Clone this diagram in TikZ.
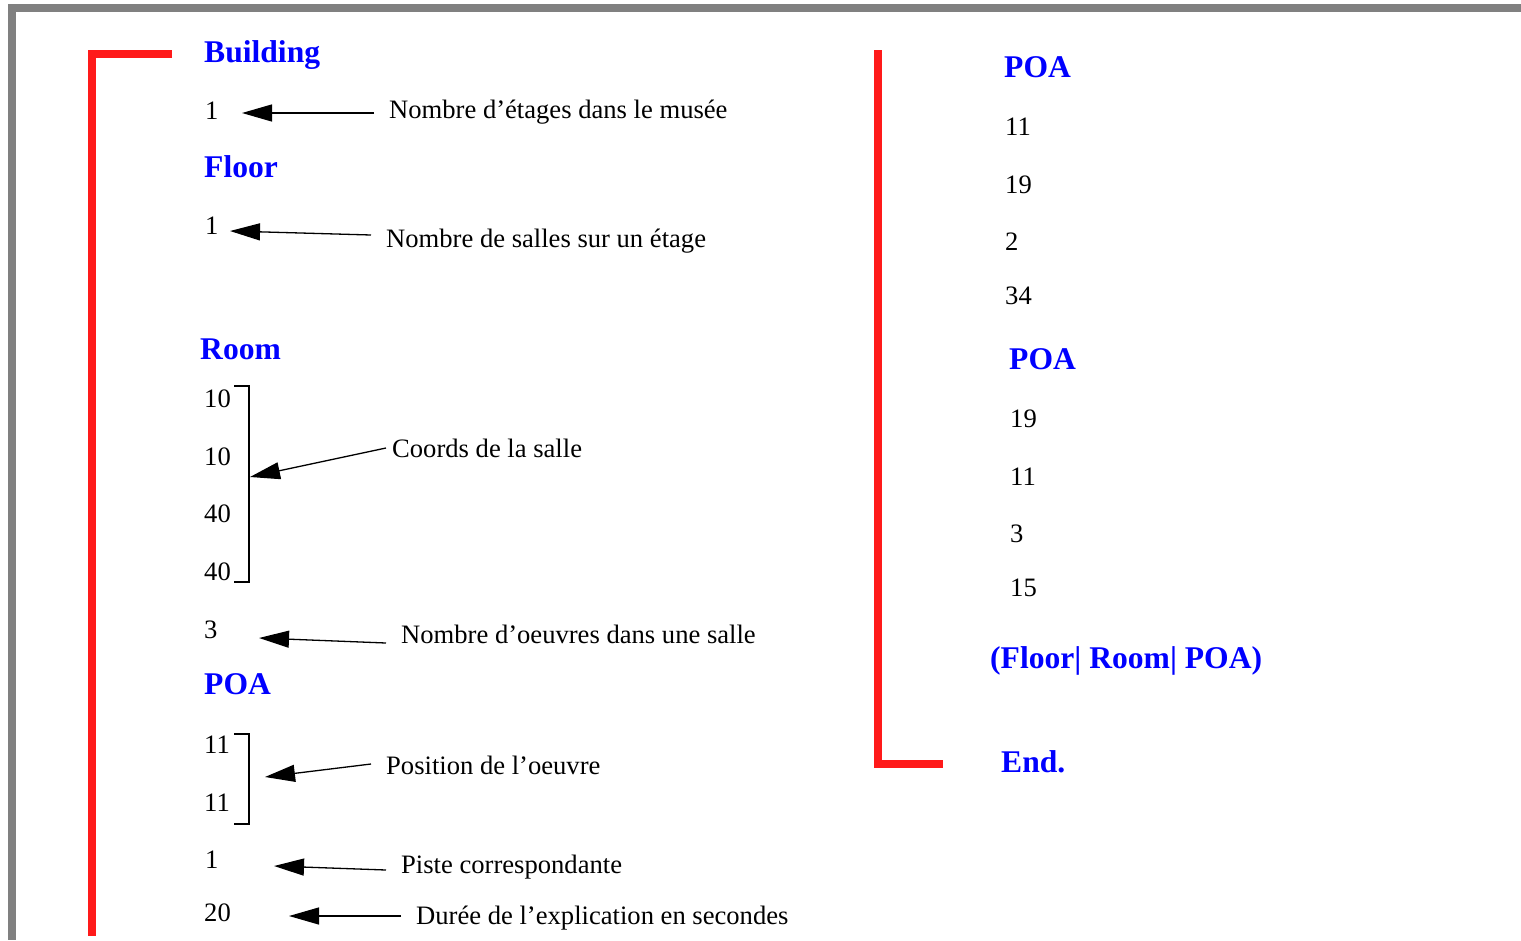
\documentclass[tikz,border=0pt]{standalone}
\usepackage{fontspec}
\setmainfont{Liberation Serif}
\usetikzlibrary{arrows.meta}
\definecolor{framegray}{RGB}{128,128,128}
\definecolor{barred}{RGB}{255,26,26}
\definecolor{headblue}{RGB}{0,0,255}

\begin{document}
\begin{tikzpicture}[x=1pt,y=-1pt,
    hd/.style={anchor=base west,inner sep=0pt,text=headblue,font=\fontsize{31.6}{38}\selectfont\bfseries},
    num/.style={anchor=base west,inner sep=0pt,font=\fontsize{26.6}{32}\selectfont},
    note/.style={anchor=base west,inner ysep=0pt,inner xsep=15pt,font=\fontsize{26.6}{32}\selectfont},
    arr/.style={line width=1.3pt,-{Triangle[length=30pt,width=17pt]}},
    bar/.style={line width=8pt,draw=barred,line join=miter}]
            \useasboundingbox (0,0) rectangle (1521,940);
            \fill[framegray] (8,4) rectangle (1521,12);
            \fill[framegray] (8,4) rectangle (16,940);
            \draw[bar] (172,54)--(92,54)--(92,936);
            \draw[bar] (878,50)--(878,764)--(943,764);
            \node[hd] (building) at (204,62) {Building};
            \node[num] (nfloors) at (205,119) {1};
            \node[hd] (floor) at (204,177) {Floor};
            \node[num] (nrooms) at (205,234) {1};
            \node[hd] (room) at (200,359) {Room};
            \foreach \v/\y [count=\k] in {10/407,10/465,40/522,40/580} {
            \node[num] (rc\k) at (204,\y) {\v};
            }
            \draw[line width=1.2pt] (234,386)--(249,386)--(249,582)--(234,582);
            \node[num] (nart) at (204,638) {3};
            \node[hd] (poa) at (204,694) {POA};
            \node[num] (px) at (204,753) {11};
            \node[num] (py) at (204,811) {11};
            \draw[line width=1.2pt] (234,734)--(249,734)--(249,824)--(234,824);
            \node[num] (track) at (205,868) {1};
            \node[num] (dur) at (204,921) {20};
            \node[note] (l1) at (374,118) {Nombre d’étages dans le musée};
            \node[note] (l2) at (371,247) {Nombre de salles sur un étage};
            \node[note,inner xsep=6pt] (l3) at (386,457) {Coords de la salle};
            \node[note] (l4) at (386,643) {Nombre d’oeuvres dans une salle};
            \node[note] (l5) at (371,774) {Position de l’oeuvre};
            \node[note] (l6) at (386,873) {Piste correspondante};
            \node[note] (l7) at (401,924) {Durée de l’explication en secondes};
            \coordinate (t1) at (242,113);
            \coordinate (t2) at (230,231);
            \coordinate (t3) at (250,477);
            \coordinate (t4) at (259,638);
            \coordinate (t5) at (265,777);
            \coordinate (t6) at (274,866);
            \coordinate (t7) at (289,916);
            \foreach \n/\d in {1/5,2/12,3/9,4/0,5/10,6/3,7/8} {
            \draw[arr] ([yshift=\d pt]l\n.base west)--(t\n);
            }
            \node[hd] (poaA) at (1004,77) {POA};
            \foreach \v/\y [count=\k] in {11/135,19/193,2/250,34/304} {
            \node[num] (a\k) at (1005,\y) {\v};
            }
            \node[hd] (poaB) at (1009,369) {POA};
            \foreach \v/\y [count=\k] in {19/427,11/485,3/542,15/596} {
            \node[num] (b\k) at (1010,\y) {\v};
            }
            \node[hd] (again) at (990,668) {(Floor| Room| POA)};
            \node[hd] (end) at (1001,772) {End.};
        \end{tikzpicture}
\end{document}
